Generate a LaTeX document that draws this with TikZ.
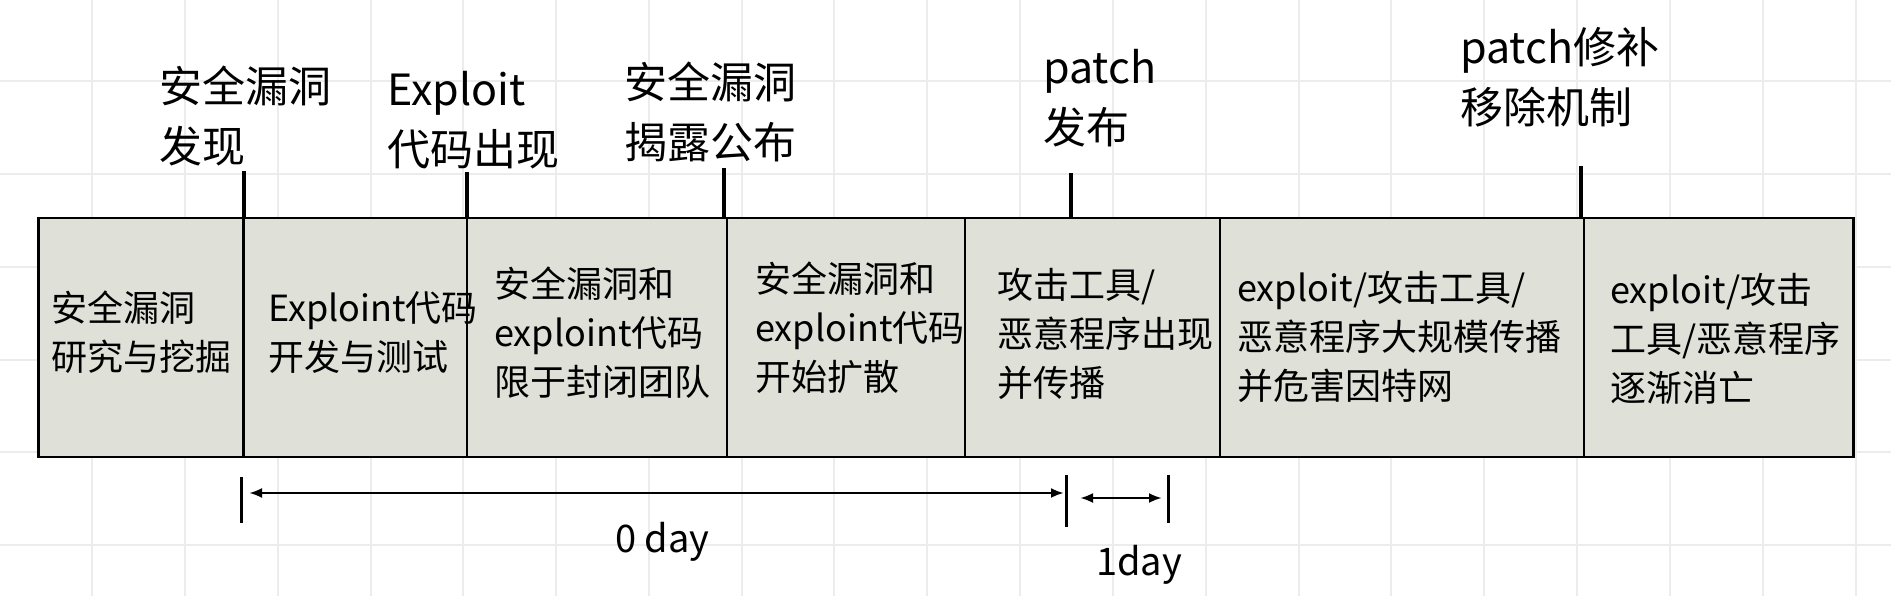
\documentclass[tikz,border=0pt]{standalone}
\usepackage{fontspec}
\setmainfont{Noto Sans CJK SC}
\usetikzlibrary{arrows.meta}
\definecolor{cellfill}{HTML}{DFE0D8}
\definecolor{gridcol}{HTML}{ECECEC}
\begin{document}
\begin{tikzpicture}[x=1pt,y=-1pt,
  cell/.style={draw=black, line width=2.8pt, fill=cellfill, minimum height=239pt,
    inner sep=0pt, outer sep=0pt, anchor=north west},
  toplbl/.style={font=\fontsize{43}{60}\selectfont, align=left, anchor=base west, inner sep=0pt},
  celltxt/.style={font=\fontsize{36}{49}\selectfont, align=left, anchor=base west, inner sep=0pt},
  daylbl/.style={font=\fontsize{38}{44}\selectfont, anchor=base west, inner sep=0pt},
  tickline/.style={line width=3.5pt},
  barline/.style={line width=3pt},
  dimline/.style={line width=2.6pt, {Latex[length=13pt,width=10pt]}-{Latex[length=13pt,width=10pt]}},
  gridline/.style={gridcol, line width=1.3pt}]
\useasboundingbox (0,0) rectangle (1891,596);
\fill[white] (0,0) rectangle (1891,596);
% background grid
\foreach \gx in {92,185,278,371,463,556,649,742,834,927,1020,1113,1206,1299,1391,1484,1577,1670,1763,1856}
  \draw[gridline] (\gx,0) -- (\gx,596);
\foreach \gy in {81,174,267,360,452,545}
  \draw[gridline] (0,\gy) -- (1891,\gy);

% cells
\node[cell, minimum width=205pt]   (c1) at (38.6,218) {};
\node[cell, minimum width=223.4pt] (c2) at (243.6,218) {};
\node[cell, minimum width=260pt]   (c3) at (467,218) {};
\node[cell, minimum width=238pt]   (c4) at (727,218) {};
\node[cell, minimum width=255pt]   (c5) at (965,218) {};
\node[cell, minimum width=364pt]   (c6) at (1220,218) {};
\node[cell, minimum width=269.5pt] (c7) at (1584,218) {};

% cell texts (anchor = baseline of the last line)
\node[celltxt] (t1) at (51,370) {安全漏洞\\研究与挖掘};
\node[celltxt] (t2) at (268,370) {Exploint代码\\开发与测试};
\node[celltxt] (t3) at (494,395) {安全漏洞和\\exploint代码\\限于封闭团队};
\node[celltxt] (t4) at (755,390) {安全漏洞和\\exploint代码\\开始扩散};
\node[celltxt] (t5) at (997,396) {攻击工具/\\恶意程序出现\\并传播};
\node[celltxt] (t6) at (1237,399) {exploit/攻击工具/\\恶意程序大规模传播\\并危害因特网};
\node[celltxt] (t7) at (1610,401) {exploit/攻击\\工具/恶意程序\\逐渐消亡};

% top labels (anchor = baseline of the last line)
\node[toplbl] (l1) at (159,163) {安全漏洞\\发现};
\node[toplbl] (l2) at (387,166) {Exploit\\代码出现};
\node[toplbl] (l3) at (624,159) {安全漏洞\\揭露公布};
\node[toplbl] (l4) at (1043,144) {patch\\发布};
\node[toplbl] (l5) at (1460,124) {patch修补\\移除机制};

% ticks
\coordinate (k1) at (244,171);
\coordinate (k2) at (467,172);
\coordinate (k3) at (724,168);
\coordinate (k4) at (1071,173);
\coordinate (k5) at (1581,166);
\draw[tickline] (k1) -- (k1 |- c1.north);
\draw[tickline] (k2) -- (k2 |- c2.north);
\draw[tickline] (k3) -- (k3 |- c3.north);
\draw[tickline] (k4) -- (k4 |- c5.north);
\draw[tickline] (k5) -- (k5 |- c6.north);

% bottom dimension marks
\coordinate (b1t) at (241,477);  \coordinate (b1b) at (241,523);
\coordinate (b2t) at (1066,475); \coordinate (b2b) at (1066,527);
\coordinate (b3t) at (1168,475); \coordinate (b3b) at (1168,523);
\draw[barline] (b1t) -- (b1b);
\draw[barline] (b2t) -- (b2b);
\draw[barline] (b3t) -- (b3b);
\coordinate (a1l) at (249,493);  \coordinate (a1r) at (1064,493);
\coordinate (a2l) at (1080,498); \coordinate (a2r) at (1162,498);
\draw[dimline] (a1l) -- (a1r);
\draw[dimline] (a2l) -- (a2r);

\node[daylbl] (d0) at (615,552) {0 day};
\node[daylbl] (d1) at (1096,575) {1day};
\end{tikzpicture}
\end{document}
